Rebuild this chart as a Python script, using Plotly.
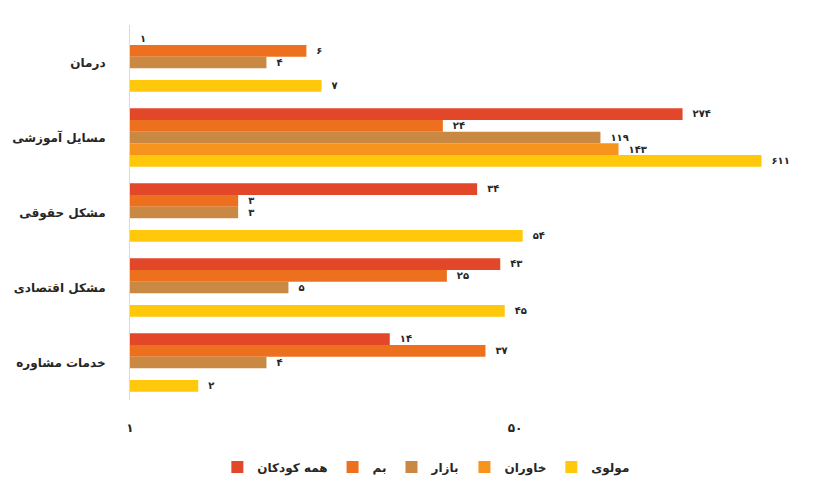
import plotly.graph_objects as go

# Categories (top to bottom) and series values
categories = ["درمان", "مسایل آموزشی", "مشکل حقوقی", "مشکل اقتصادی", "خدمات مشاوره"]
series_names = ["همه کودکان", "بم", "بازار", "خاوران", "مولوی"]
all_children = [1, 274, 34, 43, 14]
bam = [6, 24, 3, 25, 37]
bazar = [4, 119, 3, 5, 4]
khavaran = [None, 143, None, None, None]
molavi = [7, 611, 54, 45, 2]
series_values = [all_children, bam, bazar, khavaran, molavi]
series_colors = ["#E3472A", "#EC701D", "#C98943", "#F7941D", "#FFC80B"]

tick_values = [1, 50, 2500]

FA_DIGITS = str.maketrans("0123456789", "۰۱۲۳۴۵۶۷۸۹")


def fa(n):
    return str(n).translate(FA_DIGITS)


font_family = "DejaVu Sans"

fig = go.Figure()
for name, vals, color in zip(series_names, series_values, series_colors):
    labels = ["" if v is None else "\u00a0\u00a0" + fa(v) for v in vals]
    fig.add_trace(go.Bar(
        name=name,
        y=categories,
        x=vals,
        orientation="h",
        marker=dict(color=color, line=dict(width=0)),
        text=labels,
        textposition="outside",
        cliponaxis=False,
        textfont=dict(family=font_family, size=12, color="#262626", weight="bold"),
    ))

fig.update_layout(
    width=835,
    height=483,
    barmode="group",
    bargap=0.22,
    bargroupgap=0,
    plot_bgcolor="white",
    paper_bgcolor="white",
    margin=dict(l=130, r=25, t=25, b=83),
    font=dict(family=font_family, size=12, color="#262626"),
    legend=dict(
        orientation="h",
        xref="container", yref="container",
        x=0.51, xanchor="center",
        y=0.033, yanchor="middle",
        font=dict(family=font_family, size=12, color="#262626", weight="bold"),
        itemwidth=30,
        traceorder="normal",
    ),
)

fig.update_xaxes(
    type="log",
    range=[0, 3.0],
    tickvals=tick_values,
    ticktext=[fa(v) for v in tick_values],
    showgrid=False,
    zeroline=False,
    showline=False,
    ticks="",
    automargin=False,
    ticklabelstandoff=19,
    tickfont=dict(family=font_family, size=12, color="#262626", weight="bold"),
)

fig.update_yaxes(
    autorange="reversed",
    showgrid=False,
    showline=True,
    linecolor="#D9D9D9",
    linewidth=1,
    ticks="",
    automargin=False,
    ticklabelstandoff=21,
    tickfont=dict(family=font_family, size=12, color="#262626", weight="bold"),
)

fig.write_html("out.html")
